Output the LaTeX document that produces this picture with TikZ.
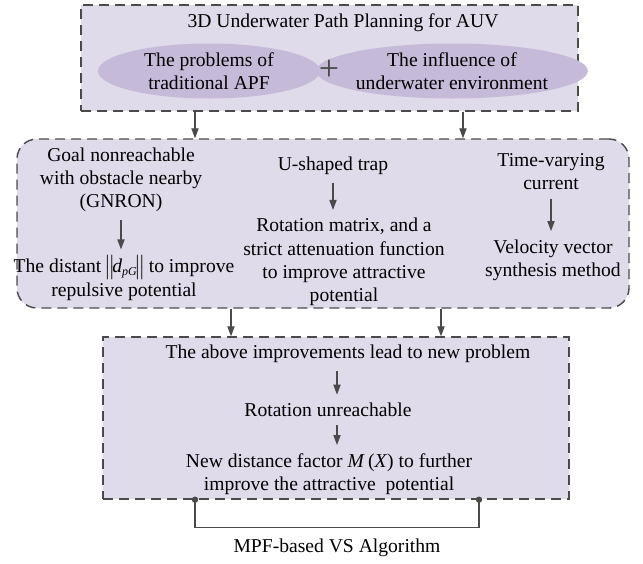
\documentclass[tikz,border=0pt]{standalone}
\usepackage{fontspec}
\setmainfont{Liberation Serif}
\usetikzlibrary{arrows.meta,shapes.geometric}
\definecolor{boxFill}{HTML}{DFDBEA}
\definecolor{ellFill}{HTML}{C6BAD9}
\definecolor{lineGray}{HTML}{4A4A4A}

\begin{document}
\begin{tikzpicture}[
    x=0.5pt, y=-0.5pt,
    every node/.style={font=\fontsize{9.8}{11.6}\selectfont, align=center, inner sep=1pt},
    dbox/.style={draw=lineGray, fill=boxFill, line width=0.7pt, dash pattern=on 5pt off 3pt},
    oval/.style={ellipse, fill=ellFill, inner sep=0pt},
    arr/.style={-{Triangle[length=5pt,width=3.6pt]}, lineGray, line width=0.6pt},
    flow/.style={arr, shorten <=3pt, shorten >=3pt},
]
\useasboundingbox (0,0) rectangle (643,563);

% Top box: the task and where its problems come from
\node[dbox, minimum width=248.5pt, minimum height=53pt] (task) at (329.5,58) {};
\node (title) at (343,23) {3D Underwater Path Planning for AUV};
\node[oval, minimum width=111pt, minimum height=27.5pt] (apf) at (209,71)
    {The problems of\\traditional APF};
\node[oval, minimum width=114pt, minimum height=27.5pt] (env) at (452,71)
    {The influence of\\underwater environment};
\node[font=\fontsize{18}{18}\selectfont, text=lineGray] (plus) at (329,70) {+};

% Middle box: the three problems and their fixes
\node[dbox, rounded corners=10pt, minimum width=306pt, minimum height=84.5pt] (mid) at (323,223.5) {};
\node (goal) at (121,180) {Goal nonreachable\\with obstacle nearby\\(GNRON)};
\node[inner sep=0pt] (dist) at (124,278) {The distant\,$\bigl\|\!\textit{d}_{\mbox{\fontsize{6}{6}\selectfont\itshape pG}}\!\bigr\|$\,to improve\\repulsive potential};
\node (trap) at (333,166) {U-shaped trap};
\node (rot) at (344,262) {Rotation matrix, and a\\strict attenuation function\\to improve attractive\\potential};
\node (cur) at (551,172) {Time-varying\\current};
\node (vel) at (553,260) {Velocity vector\\synthesis method};

\draw[flow] (goal) -- (goal |- dist.north);
\draw[flow] (trap) -- (trap |- rot.north);
\draw[flow] (cur) -- (cur |- vel.north);

% Bottom box: the new problem
\node[dbox, minimum width=233pt, minimum height=81pt] (low) at (336,418) {};
\node (newp) at (348,354) {The above improvements lead to new problem};
\node (unr) at (328,410) {Rotation unreachable};
\node (fac) at (329,474) {New distance factor \textit{M}\,(\textit{X}) to further\\improve the attractive\ \ potential};

\coordinate (ua) at (337,0);
\draw[flow] (newp.south -| ua) -- (unr.north -| ua);
\draw[flow] (unr.south -| ua) -- (fac.north -| ua);

% Box to box
\coordinate (ta) at (195,0);
\coordinate (tb) at (463,0);
\coordinate (ma) at (231,0);
\coordinate (mb) at (441,0);
\draw[arr] (task.south -| ta) -- (mid.north -| ta);
\draw[arr] (task.south -| tb) -- (mid.north -| tb);
\draw[arr] (mid.south -| ma) -- (low.north -| ma);
\draw[arr] (mid.south -| mb) -- (low.north -| mb);

% Bracket and algorithm name
\coordinate (ka) at (195,0);
\coordinate (kb) at (479,0);
\draw[lineGray, line width=0.7pt] (low.south -| ka) -- ++(0,28) -| (low.south -| kb);
\fill[lineGray] (low.south -| ka) circle (1.6pt);
\fill[lineGray] (low.south -| kb) circle (1.6pt);
\node (alg) at (337,548) {MPF-based VS Algorithm};

\end{tikzpicture}
\end{document}
